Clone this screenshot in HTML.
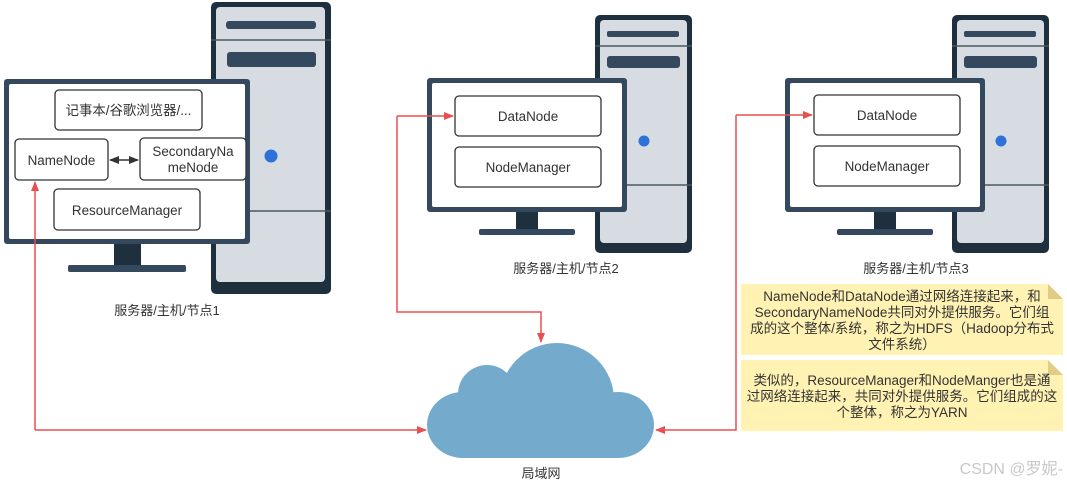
<!DOCTYPE html>
<html><head><meta charset="utf-8"><style>
html,body{margin:0;padding:0;background:#fff;}
svg{display:block;font-family:"Liberation Sans","Noto Sans CJK SC",sans-serif;}
text{fill:#333;font-size:13px;}
.n{font-size:13.4px;}
</style></head><body>
<svg width="1067" height="485" viewBox="0 0 1067 485" xmlns="http://www.w3.org/2000/svg">
<defs>
<marker id="ar" markerWidth="10" markerHeight="8" refX="9" refY="4" orient="auto" markerUnits="userSpaceOnUse">
<path d="M0,0 L10,4 L0,8 Z" fill="#e85050"/></marker>
<marker id="ad" markerWidth="10" markerHeight="8" refX="9" refY="4" orient="auto-start-reverse" markerUnits="userSpaceOnUse">
<path d="M0,0 L10,4 L0,8 Z" fill="#333"/></marker>
</defs>

<!-- Tower 1 -->
<rect x="211" y="2" width="120" height="292" rx="5" fill="#1e2f3e"/>
<rect x="216" y="7" width="109" height="275" rx="4" fill="#d6dce2"/>
<line x1="211" y1="40" x2="331" y2="40" stroke="#4a5a5e" stroke-width="1.5"/>
<line x1="211" y1="211" x2="331" y2="211" stroke="#4a5a5e" stroke-width="1.5"/>
<rect x="226" y="21" width="90" height="8" rx="3" fill="#34495e"/>
<rect x="227" y="52" width="89" height="15" rx="3" fill="#34495e"/>
<circle cx="271" cy="156" r="6.5" fill="#2d72d9"/>
<!-- Monitor 1 -->
<rect x="4" y="79" width="246" height="165" rx="3" fill="#34495e"/>
<rect x="9" y="84" width="236" height="155" rx="2" fill="#fff"/>
<rect x="114" y="244" width="27" height="21" fill="#1e2f3e"/>
<rect x="68" y="265" width="118" height="7" rx="2" fill="#34495e"/>
<rect x="55" y="90" width="147" height="40" rx="4" fill="#fff" stroke="#333" stroke-width="1.3"/>
<text class="n" x="128.5" y="115" text-anchor="middle">记事本/谷歌浏览器/...</text>
<rect x="15" y="139" width="93" height="41" rx="4" fill="#fff" stroke="#333" stroke-width="1.3"/>
<text class="n" x="61.5" y="165" text-anchor="middle">NameNode</text>
<rect x="140" y="138" width="106" height="42" rx="4" fill="#fff" stroke="#333" stroke-width="1.3"/>
<text class="n" x="193" y="156" text-anchor="middle">SecondaryNa</text>
<text class="n" x="193" y="172" text-anchor="middle">meNode</text>
<line x1="110" y1="160" x2="138" y2="160" stroke="#333" stroke-width="1.5" marker-start="url(#ad)" marker-end="url(#ad)"/>
<rect x="54" y="189" width="146" height="41" rx="4" fill="#fff" stroke="#333" stroke-width="1.3"/>
<text class="n" x="127" y="215" text-anchor="middle">ResourceManager</text>
<text x="167" y="315" text-anchor="middle">服务器/主机/节点1</text>

<!-- Tower 2 -->
<rect x="595" y="15" width="97" height="238" rx="5" fill="#1e2f3e"/>
<rect x="600" y="20" width="87" height="223" rx="4" fill="#d6dce2"/>
<line x1="595" y1="46" x2="692" y2="46" stroke="#4a5a5e" stroke-width="1.5"/>
<line x1="595" y1="185" x2="692" y2="185" stroke="#4a5a5e" stroke-width="1.5"/>
<rect x="607" y="31" width="72" height="6" rx="2" fill="#34495e"/>
<rect x="607" y="56" width="73" height="12" rx="3" fill="#34495e"/>
<circle cx="644" cy="141" r="5.5" fill="#2d72d9"/>
<rect x="427" y="78" width="200" height="134" rx="3" fill="#34495e"/>
<rect x="432" y="83" width="190" height="124" rx="2" fill="#fff"/>
<rect x="516" y="212" width="22" height="18" fill="#1e2f3e"/>
<rect x="479" y="229" width="96" height="6" rx="2" fill="#34495e"/>
<rect x="455" y="96" width="146" height="40" rx="4" fill="#fff" stroke="#333" stroke-width="1.3"/>
<text class="n" x="528" y="121" text-anchor="middle">DataNode</text>
<rect x="455" y="147" width="146" height="40" rx="4" fill="#fff" stroke="#333" stroke-width="1.3"/>
<text class="n" x="528" y="172" text-anchor="middle">NodeManager</text>
<text x="566" y="273" text-anchor="middle">服务器/主机/节点2</text>

<!-- Tower 3 -->
<rect x="952" y="15" width="97" height="238" rx="5" fill="#1e2f3e"/>
<rect x="957" y="20" width="87" height="223" rx="4" fill="#d6dce2"/>
<line x1="952" y1="46" x2="1049" y2="46" stroke="#4a5a5e" stroke-width="1.5"/>
<line x1="952" y1="185" x2="1049" y2="185" stroke="#4a5a5e" stroke-width="1.5"/>
<rect x="964" y="31" width="72" height="6" rx="2" fill="#34495e"/>
<rect x="964" y="56" width="73" height="12" rx="3" fill="#34495e"/>
<circle cx="1001" cy="141" r="5.5" fill="#2d72d9"/>
<rect x="785" y="78" width="200" height="134" rx="3" fill="#34495e"/>
<rect x="790" y="83" width="190" height="124" rx="2" fill="#fff"/>
<rect x="874" y="212" width="22" height="18" fill="#1e2f3e"/>
<rect x="837" y="229" width="96" height="6" rx="2" fill="#34495e"/>
<rect x="814" y="95" width="146" height="40" rx="4" fill="#fff" stroke="#333" stroke-width="1.3"/>
<text class="n" x="887" y="120" text-anchor="middle">DataNode</text>
<rect x="814" y="146" width="146" height="40" rx="4" fill="#fff" stroke="#333" stroke-width="1.3"/>
<text class="n" x="887" y="171" text-anchor="middle">NodeManager</text>
<text x="916" y="273" text-anchor="middle">服务器/主机/节点3</text>

<!-- Cloud -->
<g fill="#74abcd">
<circle cx="557" cy="400" r="57"/>
<circle cx="487" cy="394" r="29"/>
<ellipse cx="463" cy="425" rx="36" ry="33"/>
<ellipse cx="618" cy="425" rx="36" ry="33"/>
<rect x="463" y="400" width="155" height="58"/>
</g>
<text x="541" y="478" text-anchor="middle">局域网</text>

<!-- Red connectors -->
<g fill="none" stroke="#e85050" stroke-width="1.5">
<polyline points="35,430 35,182" marker-end="url(#ar)"/>
<polyline points="35,430 426,430" marker-end="url(#ar)"/>
<polyline points="397,116 397,312 541,312 541,342" marker-end="url(#ar)"/>
<polyline points="397,116 453,116" marker-end="url(#ar)"/>
<polyline points="736,115 736,430 656,430" marker-end="url(#ar)"/>
<polyline points="736,115 812,115" marker-end="url(#ar)"/>
</g>

<!-- Notes -->
<path d="M741,284 H1048 L1063,299 V355 H741 Z" fill="#fff2b3"/>
<path d="M1048,284 L1063,299 H1048 Z" fill="#e0cc85"/>
<text x="902" y="301" text-anchor="middle" style="font-size:13.5px">NameNode和DataNode通过网络连接起来，和</text>
<text x="902" y="317" text-anchor="middle" style="font-size:13.5px">SecondaryNameNode共同对外提供服务。它们组</text>
<text x="902" y="333" text-anchor="middle" style="font-size:13.5px">成的这个整体/系统，称之为HDFS（Hadoop分布式</text>
<text x="902" y="349" text-anchor="middle" style="font-size:13.5px">文件系统）</text>
<path d="M741,360 H1048 L1063,375 V431 H741 Z" fill="#fff2b3"/>
<path d="M1048,360 L1063,375 H1048 Z" fill="#e0cc85"/>
<text x="902" y="385" text-anchor="middle" style="font-size:13.5px">类似的，ResourceManager和NodeManger也是通</text>
<text x="902" y="401" text-anchor="middle" style="font-size:13.5px">过网络连接起来，共同对外提供服务。它们组成的这</text>
<text x="902" y="417" text-anchor="middle" style="font-size:13.5px">个整体，称之为YARN</text>

<text x="1063" y="474" text-anchor="end" style="fill:#c8c8c8;font-size:16px">CSDN @罗妮-</text>
</svg>
</body></html>
